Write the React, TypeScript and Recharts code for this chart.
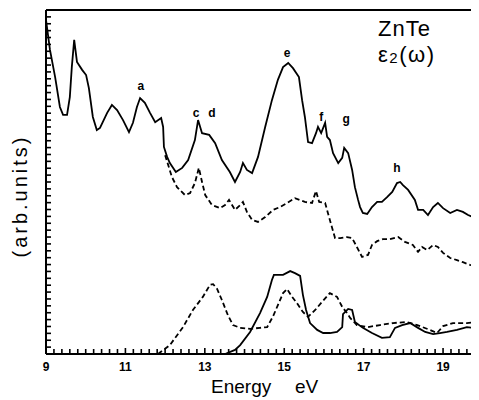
import { LineChart, Line, XAxis, YAxis, ReferenceLine, ReferenceDot } from "recharts";

// upper solid curve (measured eps2)
const upperSolidE = [9.0, 9.1, 9.23, 9.35, 9.43, 9.53, 9.6, 9.65, 9.71, 9.78, 9.91, 10.01, 10.08, 10.18, 10.28, 10.36, 10.54, 10.66, 10.79, 10.94, 11.09, 11.19, 11.29, 11.37, 11.49, 11.62, 11.75, 11.9, 11.95, 11.97, 12.05, 12.12, 12.27, 12.43, 12.58, 12.75, 12.83, 12.93, 13.11, 13.26, 13.43, 13.63, 13.76, 13.89, 13.96, 14.06, 14.19, 14.34, 14.52, 14.69, 14.84, 14.97, 15.1, 15.22, 15.37, 15.45, 15.52, 15.6, 15.7, 15.8, 15.85, 15.93, 16.03, 16.08, 16.15, 16.23, 16.36, 16.46, 16.51, 16.61, 16.71, 16.78, 16.86, 16.91, 16.98, 17.09, 17.21, 17.34, 17.46, 17.59, 17.72, 17.84, 17.92, 17.99, 18.12, 18.29, 18.37, 18.5, 18.62, 18.75, 18.87, 19.0, 19.18, 19.35, 19.5, 19.63, 19.81, 19.88];
const upperSolidV = [97.1, 88.4, 80.5, 71.8, 69.5, 69.5, 74.7, 83.4, 91.3, 84.9, 82.6, 81.1, 77.3, 68.9, 65.1, 65.7, 70.1, 72.4, 70.9, 68.0, 64.5, 67.2, 71.8, 74.4, 73.0, 70.1, 67.4, 68.6, 66.0, 60.2, 57.3, 55.5, 52.9, 54.1, 56.4, 62.2, 68.0, 64.2, 63.7, 61.3, 56.4, 52.9, 50.0, 52.9, 55.5, 53.5, 52.6, 57.3, 66.0, 73.8, 79.7, 83.4, 84.6, 83.1, 80.5, 73.8, 68.9, 61.6, 61.3, 64.2, 66.0, 64.2, 67.2, 63.1, 62.2, 58.4, 55.5, 57.0, 59.9, 58.4, 53.5, 48.5, 44.8, 42.7, 41.0, 40.7, 42.7, 44.2, 44.2, 45.6, 47.1, 49.7, 50.0, 49.1, 47.7, 44.8, 41.9, 41.9, 40.4, 42.7, 43.9, 42.4, 41.0, 41.9, 41.3, 40.4, 39.5, 40.4];

// upper dashed curve
const upperDashE = [12.0, 12.17, 12.3, 12.5, 12.63, 12.75, 12.85, 12.93, 13.01, 13.18, 13.38, 13.51, 13.61, 13.76, 13.89, 13.96, 14.06, 14.19, 14.34, 14.52, 14.72, 14.89, 15.07, 15.27, 15.52, 15.7, 15.8, 15.88, 16.03, 16.1, 16.2, 16.28, 16.41, 16.58, 16.71, 16.83, 16.96, 17.11, 17.21, 17.34, 17.49, 17.66, 17.87, 18.04, 18.24, 18.37, 18.47, 18.6, 18.75, 18.87, 19.0, 19.18, 19.35, 19.5, 19.68, 19.88];
const upperDashV = [57.8, 51.5, 48.5, 46.2, 46.8, 49.7, 54.1, 50.0, 46.2, 43.3, 42.4, 43.3, 44.8, 41.9, 43.3, 44.2, 41.3, 39.0, 38.4, 39.8, 41.9, 42.7, 43.9, 45.3, 44.2, 43.9, 47.4, 44.2, 43.9, 41.0, 36.9, 33.7, 33.7, 34.0, 33.7, 31.1, 28.2, 28.8, 31.7, 32.8, 33.4, 33.4, 34.0, 32.6, 31.7, 29.7, 31.1, 30.2, 31.7, 31.1, 29.4, 27.9, 27.3, 26.7, 25.9, 25.3];

// lower solid curve
const lowerSolidE = [13.51, 13.76, 13.89, 14.14, 14.39, 14.57, 14.69, 14.74, 14.97, 15.15, 15.27, 15.4, 15.47, 15.55, 15.65, 15.83, 15.98, 16.15, 16.33, 16.46, 16.48, 16.61, 16.71, 16.78, 16.98, 17.21, 17.46, 17.66, 17.79, 17.97, 18.17, 18.37, 18.55, 18.75, 18.92, 19.1, 19.35, 19.6, 19.76, 19.88];
const lowerSolidV = [0, 1.2, 2.6, 6.4, 11.9, 16.6, 21.5, 23.0, 23.0, 24.1, 23.5, 22.7, 17.2, 12.8, 9.0, 7.0, 6.1, 6.1, 6.4, 7.8, 11.6, 13.1, 12.8, 9.3, 7.6, 6.1, 4.7, 4.9, 7.6, 8.4, 9.0, 7.6, 6.4, 5.8, 6.1, 6.4, 7.0, 7.8, 7.6, 6.1];

// lower dashed curve
const lowerDashE = [11.82, 12.12, 12.45, 12.7, 12.95, 13.13, 13.21, 13.31, 13.43, 13.58, 13.71, 13.89, 14.14, 14.39, 14.57, 14.72, 14.84, 14.97, 15.07, 15.2, 15.32, 15.47, 15.6, 15.78, 15.95, 16.15, 16.33, 16.46, 16.58, 16.66, 16.83, 17.09, 17.41, 17.74, 18.09, 18.35, 18.67, 18.85, 19.0, 19.25, 19.6, 19.88];
const lowerDashV = [0, 2.6, 7.8, 12.8, 16.6, 20.1, 20.3, 18.9, 15.7, 11.3, 8.4, 7.6, 7.3, 7.6, 7.8, 11.0, 14.2, 17.7, 18.9, 16.6, 14.8, 12.2, 10.8, 12.8, 15.1, 17.7, 16.6, 13.7, 11.9, 10.5, 8.4, 7.8, 8.4, 9.0, 9.3, 8.4, 7.0, 6.1, 8.1, 9.0, 9.0, 9.3];

// peak labels
const peakNames = ["a", "c", "d", "e", "f", "g", "h"];
const peakE = [11.39, 12.78, 13.18, 15.07, 15.93, 16.56, 17.84];
const peakV = [77.9, 70.1, 70.1, 87.5, 68.9, 68.3, 54.1];

const xTicks = Array.from({ length: 55 }, (_, i) => Math.round((9 + i * 0.2) * 10) / 10);
const yTicks = Array.from({ length: 51 }, (_, i) => i * 2);

const zip = (es: number[], vs: number[]) => es.map((e, i) => ({ e, v: vs[i] }));

const FONT = "'Liberation Sans', Arial, sans-serif";

// inward tick marks, labels only at odd integers
const XTick = (props: any) => {
  const { x, y, payload } = props;
  const v = payload.value;
  const major = Number.isInteger(v) && v % 2 === 1;
  return (
    <g>
      <line x1={x} x2={x} y1={y} y2={y - (major ? 6 : 5)} stroke="#000" strokeWidth={1.6} />
      {major && (
        <text x={x} y={y + 17} textAnchor="middle" fontFamily={FONT} fontSize={12} fontWeight={700} fill="#000">
          {v}
        </text>
      )}
    </g>
  );
};

const YTick = (props: any) => {
  const { x, y } = props;
  return <line x1={x} x2={x + 5} y1={y} y2={y} stroke="#000" strokeWidth={1.6} />;
};

const yTitle = () => (
  <text
    x={0}
    y={0}
    transform="translate(27,196) rotate(-90)"
    textAnchor="middle"
    fontFamily={FONT}
    fontSize={20}
    letterSpacing={3}
    fill="#000"
  >
    (arb.units)
  </text>
);

const xTitle = () => (
  <g fontFamily={FONT} fontSize={19} fill="#000">
    <text x={211} y={393}>Energy</text>
    <text x={295} y={393}>eV</text>
  </g>
);

const plotTitle = () => (
  <g fontFamily={FONT} fill="#000">
    <text x={378} y={36} fontSize={22} letterSpacing={1}>ZnTe</text>
    <text x={378} y={62} fontSize={22} letterSpacing={1.5}>
      ε<tspan fontSize={15} dy={1}>2</tspan>
      <tspan dy={-1}>(ω)</tspan>
    </text>
  </g>
);

export default function App() {
  return (
    <div style={{ margin: "-8px 0 0 -8px", background: "#fff", width: 479, height: 400 }}>
      <LineChart width={479} height={400} margin={{ top: 10, right: 1, bottom: 0, left: 0 }}>
        <XAxis
          dataKey="e"
          type="number"
          domain={[9, 19.88]}
          allowDataOverflow
          ticks={xTicks}
          interval={0}
          tickSize={0}
          tickMargin={0}
          tickLine={false}
          height={46}
          axisLine={{ stroke: "#000", strokeWidth: 2 }}
          tick={XTick}
          label={xTitle}
        />
        <YAxis
          type="number"
          domain={[0, 100]}
          ticks={yTicks}
          interval={0}
          width={46}
          tickSize={0}
          tickMargin={0}
          tickLine={false}
          axisLine={{ stroke: "#000", strokeWidth: 2 }}
          tick={YTick}
          label={yTitle}
        />
        <ReferenceLine y={100} stroke="#000" strokeWidth={2} label={plotTitle} />
        <ReferenceLine x={19.88} stroke="#c8c8c8" strokeWidth={1} />
        <Line data={zip(upperSolidE, upperSolidV)} dataKey="v" type="linear" stroke="#000" strokeWidth={1.8} dot={false} isAnimationActive={false} />
        <Line data={zip(upperDashE, upperDashV)} dataKey="v" type="linear" stroke="#000" strokeWidth={1.8} strokeDasharray="5 3" dot={false} isAnimationActive={false} />
        <Line data={zip(lowerSolidE, lowerSolidV)} dataKey="v" type="linear" stroke="#000" strokeWidth={1.8} dot={false} isAnimationActive={false} />
        <Line data={zip(lowerDashE, lowerDashV)} dataKey="v" type="linear" stroke="#000" strokeWidth={1.8} strokeDasharray="5 3" dot={false} isAnimationActive={false} />
        {peakNames.map((n, i) => (
          <ReferenceDot
            key={n}
            x={peakE[i]}
            y={peakV[i]}
            r={0}
            fill="none"
            stroke="none"
            label={{ value: n, position: "center", fill: "#000", fontSize: 12, fontWeight: 700, fontFamily: FONT }}
          />
        ))}
      </LineChart>
    </div>
  );
}
